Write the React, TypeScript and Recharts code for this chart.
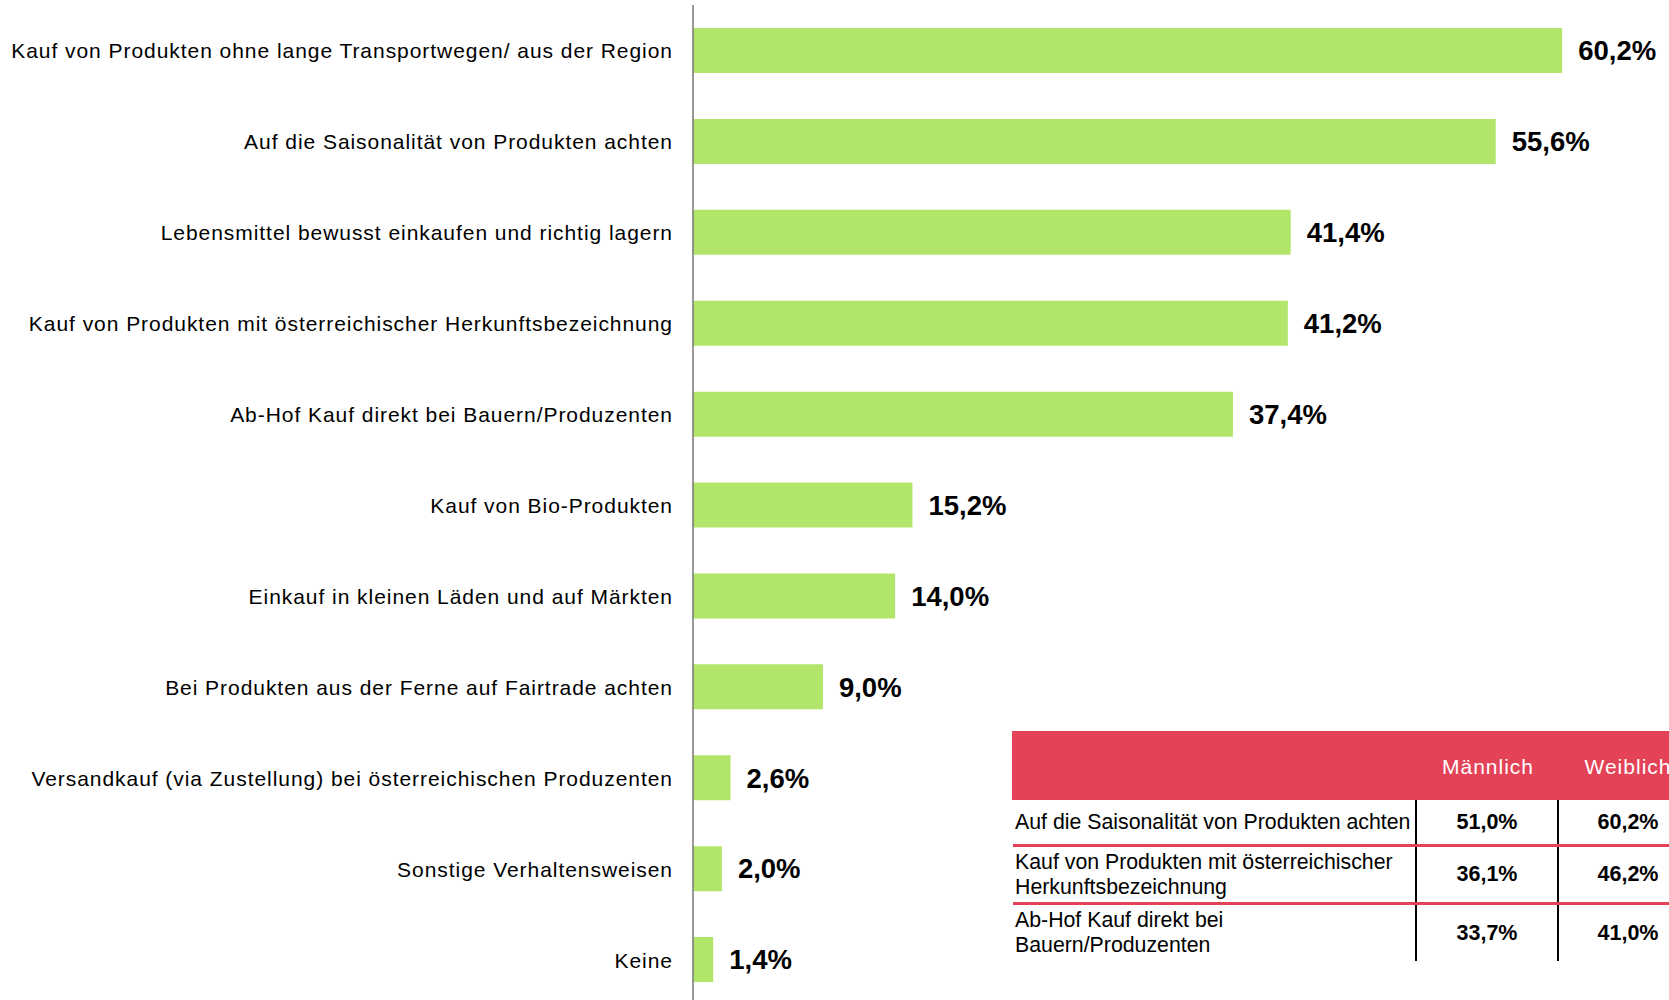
import React from "react";
import { BarChart, Bar, XAxis, YAxis, LabelList } from "recharts";

const categories = [
  "Kauf von Produkten ohne lange Transportwegen/ aus der Region",
  "Auf die Saisonalität von Produkten achten",
  "Lebensmittel bewusst einkaufen und richtig lagern",
  "Kauf von Produkten mit österreichischer Herkunftsbezeichnung",
  "Ab-Hof Kauf direkt bei Bauern/Produzenten",
  "Kauf von Bio-Produkten",
  "Einkauf in kleinen Läden und auf Märkten",
  "Bei Produkten aus der Ferne auf Fairtrade achten",
  "Versandkauf (via Zustellung) bei österreichischen Produzenten",
  "Sonstige Verhaltensweisen",
  "Keine",
];
const shares = [60.2, 55.6, 41.4, 41.2, 37.4, 15.2, 14.0, 9.0, 2.6, 2.0, 1.4];

const tableHeaders = ["Männlich", "Weiblich"];
const tableRows = [
  "Auf die Saisonalität von Produkten achten",
  "Kauf von Produkten mit österreichischer\nHerkunftsbezeichnung",
  "Ab-Hof Kauf direkt bei\nBauern/Produzenten",
];
const maleValues = [51.0, 36.1, 33.7];
const femaleValues = [60.2, 46.2, 41.0];

const data = categories.map((name, i) => ({ name, value: shares[i] }));

const FONT = '"Liberation Sans", Arial, sans-serif';
const GREEN = "#B2E66A";
const RED = "#E44256";

const pct = (v: number) => `${v.toFixed(1).replace(".", ",")}%`;

const CategoryTick = (props: any) => {
  const { x, y, payload } = props;
  return (
    <text
      x={x}
      y={y}
      dy={8}
      textAnchor="end"
      fontSize={21}
      letterSpacing={0.95}
      fill="#000"
      fontFamily={FONT}
    >
      {payload.value}
    </text>
  );
};

const rowHeights = [47, 58, 56];

const SideTable = () => (
  <div
    style={{
      position: "absolute",
      left: 1012,
      top: 731,
      width: 700,
      fontFamily: FONT,
    }}
  >
    <div style={{ display: "flex", height: 69, background: RED, color: "#fff", fontSize: 21, letterSpacing: 1 }}>
      <div style={{ width: 405 }} />
      {tableHeaders.map((h, i) => (
        <div
          key={h}
          style={{
            width: i === 0 ? 142 : 138,
            display: "flex",
            alignItems: "center",
            justifyContent: "center",
            paddingTop: 2,
          }}
        >
          {h}
        </div>
      ))}
    </div>
    {tableRows.map((label, i) => (
      <div
        key={label}
        style={{
          display: "flex",
          height: rowHeights[i],
          boxSizing: "border-box",
          borderBottom: i < tableRows.length - 1 ? `3px solid ${RED}` : "none",
          marginLeft: 1,
        }}
      >
        <div
          style={{
            width: 404,
            boxSizing: "border-box",
            paddingLeft: 2,
            borderRight: "2px solid #000",
            display: "flex",
            alignItems: "center",
            whiteSpace: "pre",
            fontSize: 21.3,
            lineHeight: "25px",
            color: "#000",
          }}
        >
          {label}
        </div>
        <div
          style={{
            width: 142,
            boxSizing: "border-box",
            borderRight: "2px solid #000",
            display: "flex",
            alignItems: "center",
            justifyContent: "center",
            fontWeight: "bold",
            fontSize: 21.5,
          }}
        >
          {pct(maleValues[i])}
        </div>
        <div
          style={{
            width: 138,
            display: "flex",
            alignItems: "center",
            justifyContent: "center",
            fontWeight: "bold",
            fontSize: 21.5,
          }}
        >
          {pct(femaleValues[i])}
        </div>
      </div>
    ))}
  </div>
);

export default function App() {
  return (
    <div
      style={{
        position: "fixed",
        left: 0,
        top: 0,
        width: 1669,
        height: 1000,
        overflow: "hidden",
        background: "#fff",
      }}
    >
      <BarChart
        width={1669}
        height={1005}
        data={data}
        layout="vertical"
        margin={{ top: 5, right: 0, bottom: 0, left: 0 }}
      >
        <XAxis type="number" domain={[0, 67.6]} hide />
        <YAxis
          type="category"
          dataKey="name"
          width={693}
          axisLine={{ stroke: "#777", strokeWidth: 1.5 }}
          tickLine={false}
          tickSize={0}
          tickMargin={20}
          tick={<CategoryTick />}
          interval={0}
        />
        <Bar dataKey="value" fill={GREEN} barSize={45} isAnimationActive={false}>
          <LabelList
            dataKey="value"
            position="right"
            offset={16}
            formatter={(v: any) => pct(Number(v))}
            style={{ fontSize: 27.5, fontWeight: "bold", fill: "#000", fontFamily: FONT }}
          />
        </Bar>
      </BarChart>
      <SideTable />
    </div>
  );
}
